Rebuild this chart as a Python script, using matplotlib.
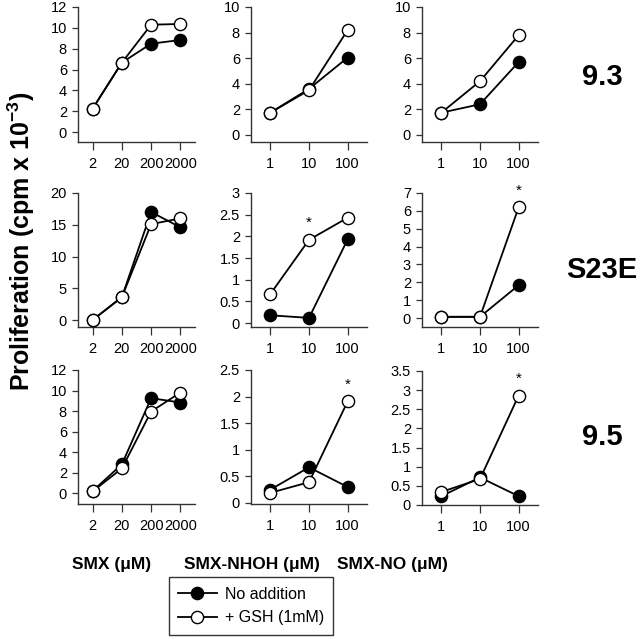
import matplotlib
matplotlib.use("Agg")
import matplotlib.pyplot as plt
from matplotlib.lines import Line2D

plt.rcParams['font.family'] = ['Liberation Sans', 'DejaVu Sans']
plt.rcParams['mathtext.fontset'] = 'custom'
plt.rcParams['mathtext.rm'] = 'Liberation Sans:bold'
plt.rcParams['mathtext.bf'] = 'Liberation Sans:bold'
plt.rcParams['mathtext.it'] = 'Liberation Sans:bold'

# categories
smx_labels = ["2", "20", "200", "2000"]
met_labels = ["1", "10", "100"]
clones = ["9.3", "S23E", "9.5"]
col_titles = ["SMX (\u03bcM)", "SMX-NHOH (\u03bcM)", "SMX-NO (\u03bcM)"]

# data: [row][col] -> (no addition, + GSH)
r1_smx_none = [2.24, 6.66, 8.48, 8.83]
r1_smx_gsh = [2.24, 6.66, 10.3, 10.37]
r1_nhoh_none = [1.74, 3.6, 6.05]
r1_nhoh_gsh = [1.74, 3.5, 8.2]
r1_no_none = [1.74, 2.4, 5.7]
r1_no_gsh = [1.74, 4.2, 7.8]

r2_smx_none = [0.0, 3.6, 17.0, 14.6]
r2_smx_gsh = [0.0, 3.6, 15.1, 16.0]
r2_nhoh_none = [0.18, 0.12, 1.93]
r2_nhoh_gsh = [0.67, 1.92, 2.43]
r2_no_none = [0.07, 0.07, 1.84]
r2_no_gsh = [0.07, 0.07, 6.2]

r3_smx_none = [0.2, 2.8, 9.25, 8.83]
r3_smx_gsh = [0.16, 2.4, 7.95, 9.8]
r3_nhoh_none = [0.25, 0.67, 0.3]
r3_nhoh_gsh = [0.19, 0.39, 1.91]
r3_no_none = [0.23, 0.72, 0.23]
r3_no_gsh = [0.34, 0.68, 2.86]

# significance stars: (row, col, index)
stars = [(1, 1, 1), (1, 2, 2), (2, 1, 2), (2, 2, 2)]

data = [
    [(r1_smx_none, r1_smx_gsh), (r1_nhoh_none, r1_nhoh_gsh), (r1_no_none, r1_no_gsh)],
    [(r2_smx_none, r2_smx_gsh), (r2_nhoh_none, r2_nhoh_gsh), (r2_no_none, r2_no_gsh)],
    [(r3_smx_none, r3_smx_gsh), (r3_nhoh_none, r3_nhoh_gsh), (r3_no_none, r3_no_gsh)],
]

ylims = [
    [(-0.96, 12), (-0.55, 10), (-0.55, 10)],
    [(-1.1, 20), (-0.09, 3), (-0.5, 7)],
    [(-1.07, 12), (-0.02, 2.5), (0, 3.5)],
]
ysteps = [
    [2, 2, 2],
    [5, 0.5, 1],
    [2, 0.5, 0.5],
]

W, H = 640, 639
fig = plt.figure(figsize=(W / 100, H / 100), dpi=100)

col_px = [(78, 117), (251, 116), (422, 116)]
row_px = [(7, 142), (193, 327), (370, 504)]

ms = 8.8

def fmt(v):
    if abs(v - round(v)) < 1e-9:
        return str(int(round(v)))
    return ("%g" % v)

for r in range(3):
    for c in range(3):
        left, width = col_px[c]
        top, bottom = row_px[r]
        if r == 2 and c == 2:
            top, bottom = 371, 505
        ax = fig.add_axes([left / W, 1 - bottom / H, width / W, (bottom - top) / H])
        labels = smx_labels if c == 0 else met_labels
        x = list(range(len(labels)))
        none_v, gsh_v = data[r][c]
        ax.plot(x, none_v, '-o', color='black', lw=1.3, ms=ms,
                mfc='black', mec='black', mew=1.0, zorder=3)
        ax.plot(x, gsh_v, '-o', color='black', lw=1.3, ms=ms,
                mfc='white', mec='black', mew=1.0, zorder=4)
        ax.set_xlim(-0.5, len(labels) - 0.5)
        ax.set_ylim(*ylims[r][c])
        step = ysteps[r][c]
        ymax = ylims[r][c][1]
        ticks = []
        v = 0.0
        while v <= ymax + 1e-9:
            ticks.append(round(v, 6))
            v += step
        ax.set_yticks(ticks)
        ax.set_yticklabels([fmt(t) for t in ticks])
        ax.set_xticks(x)
        ax.set_xticklabels(labels)
        for s in ['top', 'right']:
            ax.spines[s].set_visible(False)
        for s in ['left', 'bottom']:
            ax.spines[s].set_linewidth(1.0)
            ax.spines[s].set_color('#333333')
        ax.tick_params(axis='y', direction='out', length=4, width=0.9,
                       labelsize=10.5, pad=4, colors='#333333', labelcolor='black')
        ax.tick_params(axis='x', direction='out', length=6, width=0.9,
                       labelsize=10.5, pad=5, colors='#333333', labelcolor='black')
        ax.patch.set_visible(False)
        for (sr, sc, si) in stars:
            if sr == r and sc == c:
                ax.annotate('*', (si, gsh_v[si]), xytext=(0, 7),
                            textcoords='offset points', ha='center', va='bottom',
                            fontsize=11)

# clone labels
clone_y = [77, 270, 437]
for lab, yy in zip(clones, clone_y):
    fig.text(602 / W, 1 - yy / H, lab, ha='center', va='center',
             fontsize=21, fontweight='bold')

# y label
fig.text(21 / W, 1 - 241 / H, "Proliferation (cpm x 10$^{\\mathrm{-3}}$)", rotation=90,
         ha='center', va='center', fontsize=18, fontweight='bold')

# column titles
title_x = [112, 252, 392]
for t, xx in zip(col_titles, title_x):
    fig.text(xx / W, 1 - 565 / H, t, ha='center', va='center',
             fontsize=12.5, fontweight='bold')

handles = [
    Line2D([0], [0], color='black', lw=1.3, marker='o', ms=ms,
           mfc='black', mec='black'),
    Line2D([0], [0], color='black', lw=1.3, marker='o', ms=ms,
           mfc='white', mec='black'),
]
leg = fig.legend(handles, ["No addition", "+ GSH (1mM)"],
                 loc='center', bbox_to_anchor=(251 / W, 1 - 606 / H),
                 frameon=True, fancybox=False, edgecolor='black',
                 fontsize=11.5, handlelength=2.4, handletextpad=0.5,
                 borderpad=0.6, labelspacing=0.55)
leg.get_frame().set_linewidth(1.0)

fig.savefig('out.png', dpi=100, facecolor='white')
